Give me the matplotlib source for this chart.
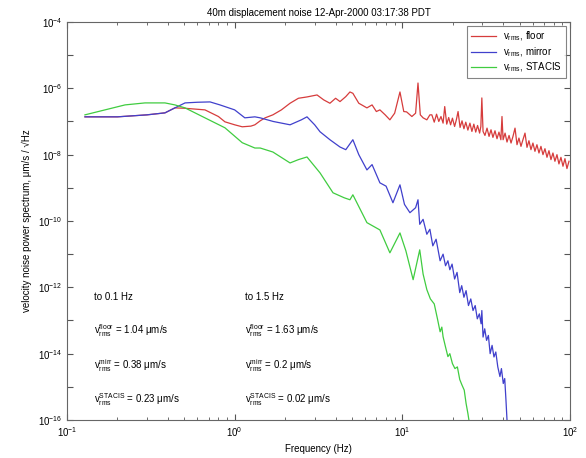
import numpy as np
import matplotlib
matplotlib.use('Agg')
import matplotlib.pyplot as plt
from matplotlib.ticker import LogLocator, NullFormatter, FixedLocator, FuncFormatter

plt.rcParams['font.family'] = ['Liberation Sans', 'DejaVu Sans']
plt.rcParams['mathtext.fontset'] = 'custom'
plt.rcParams['mathtext.rm'] = 'Liberation Sans'
plt.rcParams['mathtext.it'] = 'Liberation Sans'

# floor (red): frequency in Hz, log10 of velocity spectrum
f_floor = [0.128, 0.2, 0.3, 0.384, 0.44, 0.5, 0.665, 0.8, 0.875, 1.0, 1.11, 1.25, 1.32, 1.42,
           1.52, 1.69, 1.9, 2.14, 2.4, 2.7, 3.1, 3.4, 3.7, 4.0, 4.25, 4.6, 4.87, 5.07, 5.5,
           6.15, 6.6, 7.0, 7.35, 7.9, 8.43, 9.0, 9.68, 10.2, 10.6, 11.4, 12.0, 12.4, 12.8,
           13.3, 14.0, 14.6,
           15.0, 15.5, 16.0, 16.5, 17.0, 17.5, 17.9, 18.4, 18.9, 19.4, 19.9, 20.5, 21.0,
           21.5, 22.1, 22.7, 23.3, 23.9, 24.6, 25.3, 26.0, 26.7, 27.4, 28.1, 28.9, 29.4,
           29.8, 30.3, 31.1, 32.0, 32.9, 33.8, 34.7, 35.7, 36.7, 37.7, 38.7, 39.3, 39.9,
           41.0, 42.1, 43.3, 44.5, 45.7, 47.0, 48.3, 49.6, 51.0, 52.4, 53.9, 55.4, 56.9,
           58.5, 60.1, 61.8, 63.5, 65.3, 67.1, 69.0, 70.9, 72.9, 74.9, 77.0, 79.1, 81.3,
           83.6, 85.9, 88.3, 90.8, 93.3, 95.9, 98.6]
lv_floor = [-6.86, -6.86, -6.80, -6.74, -6.59, -6.60, -6.65, -6.85, -7.01, -7.10, -7.16, -7.14,
            -7.10, -6.98, -6.89, -6.80, -6.65, -6.45, -6.30, -6.26, -6.20, -6.35, -6.45,
            -6.30, -6.40, -6.25, -6.11, -6.15, -6.45, -6.59, -6.50, -6.70, -6.65, -6.80,
            -6.95, -6.75, -6.11, -6.70, -6.71, -6.85, -6.75, -5.84, -6.80, -6.89, -6.95,
            -6.80,
            -6.80, -7.02, -6.78, -7.00, -6.85, -7.05, -6.55, -7.08, -6.88, -7.10, -6.90,
            -7.15, -6.95, -6.70, -7.18, -6.98, -7.22, -7.02, -7.26, -7.05, -7.30, -7.08,
            -7.32, -7.12, -7.35, -7.15, -6.29, -7.30, -7.42, -7.20, -7.45, -7.25, -7.48,
            -7.28, -7.52, -7.32, -7.55, -6.85, -7.55, -7.35, -7.62, -7.42, -7.65, -7.45,
            -7.20, -7.70, -7.50, -7.75, -7.55, -7.35, -7.78, -7.58, -7.85, -7.65, -7.90,
            -7.70, -7.95, -7.75, -8.00, -7.82, -8.08, -7.88, -8.15, -7.95, -8.20, -8.00,
            -8.28, -8.08, -8.35, -8.12, -8.42, -8.20]

# mirror (blue)
f_mirror = [0.128, 0.2, 0.3, 0.384, 0.44, 0.506, 0.6, 0.713, 0.817, 1.0, 1.15, 1.32, 1.42,
            1.7, 2.14, 2.5, 2.7, 3.0, 3.23, 3.7, 4.25, 4.6, 5.07, 5.5, 6.15, 6.6, 7.35, 8.0,
            8.79, 9.68, 10.3, 11.1, 12.0, 12.4,
            12.7, 13.3, 14.0, 14.6, 15.2, 15.9, 16.8, 17.5, 18.1, 18.7, 19.2, 19.8, 20.5,
            21.2, 22.0, 22.6, 23.3, 24.0, 24.8, 25.6, 26.4, 27.2, 28.0, 28.8, 29.5, 29.8,
            30.3, 31.0, 31.8, 32.6, 33.4, 34.3, 35.2, 36.1, 37.1, 38.2, 39.0, 40.0, 40.8,
            41.5, 42.1]
lv_mirror = [-6.86, -6.86, -6.80, -6.74, -6.59, -6.44, -6.42, -6.41, -6.50, -6.65, -6.89,
             -6.86, -6.89, -7.00, -7.10, -6.95, -6.86, -7.10, -7.31, -7.55, -7.77, -7.85,
             -7.55, -8.00, -8.46, -8.30, -8.85, -8.95, -9.45, -8.91, -9.50, -9.75, -9.60,
             -9.36,
             -10.10, -9.95, -10.40, -10.25, -10.75, -10.55, -11.20, -11.00, -11.35, -11.20,
             -11.47, -11.30, -11.75, -11.55, -12.16, -11.95, -12.30, -12.10, -12.55, -12.35,
             -12.70, -12.55, -12.95, -12.80, -13.10, -12.70, -13.50, -13.25, -13.60, -13.45,
             -14.00, -13.75, -14.10, -13.95, -14.40, -14.69, -14.45, -14.90, -14.75, -15.40,
             -16.00]

# STACIS (green)
f_stacis = [0.128, 0.222, 0.292, 0.384, 0.44, 0.506, 0.665, 0.875, 1.11, 1.32, 1.42, 1.69,
            2.14, 2.4, 2.7, 3.23, 3.86, 4.5, 4.87, 5.07, 6.15, 7.35, 8.43, 9.68, 10.5, 11.6,
            12.7, 13.3, 14.0, 14.7, 15.5, 16.2, 16.8, 17.2, 17.5, 18.1, 18.7, 19.2, 19.9,
            20.6, 21.3, 22.0, 22.7, 23.4, 24.0, 24.6, 25.3]
lv_stacis = [-6.80, -6.50, -6.44, -6.44, -6.50, -6.59, -6.89, -7.19, -7.64, -7.80, -7.80,
             -7.92, -8.25, -8.15, -8.07, -8.55, -9.15, -9.30, -9.36, -9.21, -10.05, -10.27,
             -10.96, -10.36, -10.90, -11.77, -10.87, -11.60, -12.07, -12.35, -12.50, -12.95,
             -13.34, -13.20, -13.49, -13.80, -14.09, -14.00, -14.30, -14.45, -14.40, -14.78,
             -14.95, -15.10, -15.50, -15.80, -16.20]

labels = [r'$\mathrm{v_{rms}}$, floor', r'$\mathrm{v_{rms}}$, mirror', r'$\mathrm{v_{rms}}$, STACIS']
left_text = ['to 0.1 Hz',
             r'$\mathrm{v_{rms}^{floor}}$ = 1.04 μm/s',
             r'$\mathrm{v_{rms}^{mirr}}$ = 0.38 μm/s',
             r'$\mathrm{v_{rms}^{STACIS}}$ = 0.23 μm/s']
right_text = ['to 1.5 Hz',
              r'$\mathrm{v_{rms}^{floor}}$ = 1.63 μm/s',
              r'$\mathrm{v_{rms}^{mirr}}$ = 0.2 μm/s',
              r'$\mathrm{v_{rms}^{STACIS}}$ = 0.02 μm/s']
text_y = [10**-12.3, 10**-13.3, 10**-14.35, 10**-15.4]

fig = plt.figure(figsize=(5.86, 4.58), dpi=100)
ax = fig.add_axes([0.1143, 0.083, 0.8584, 0.869])

ax.loglog(f_floor, 10**np.array(lv_floor), color='#d63c3c', lw=0.9, label=labels[0])
ax.loglog(f_mirror, 10**np.array(lv_mirror), color='#4040cc', lw=0.9, label=labels[1])
ax.loglog(f_stacis, 10**np.array(lv_stacis), color='#40cc40', lw=0.9, label=labels[2])

ax.set_xlim(0.1, 100)
ax.set_ylim(1e-16, 1e-4)

ax.yaxis.set_major_locator(FixedLocator([10.0**k for k in range(-16, -3)]))
ax.yaxis.set_minor_locator(FixedLocator([]))
ax.yaxis.set_major_formatter(FuncFormatter(
    lambda v, p: r'$10^{%d}$' % round(np.log10(v)) if round(np.log10(v)) % 2 == 0 else ''))
ax.xaxis.set_major_locator(LogLocator(base=10))
ax.xaxis.set_minor_locator(LogLocator(base=10, subs=np.arange(2, 10)))
ax.xaxis.set_minor_formatter(NullFormatter())

ax.tick_params(which='both', direction='in', top=True, right=True, labelsize=7, color='#555555')
ax.tick_params(which='major', length=4)
ax.tick_params(which='minor', length=2)
for s in ax.spines.values():
    s.set_color('#666666')
    s.set_linewidth(0.8)

ax.set_title('40m displacement noise 12-Apr-2000 03:17:38 PDT', fontsize=7, pad=4)
ax.set_xlabel('Frequency (Hz)', fontsize=7)
ax.set_ylabel('velocity noise power spectrum, μm/s / √Hz', fontsize=7)

for t, y in zip(left_text, text_y):
    ax.text(0.145, y, t, fontsize=7, va='center')
for t, y in zip(right_text, text_y):
    ax.text(1.15, y, t, fontsize=7, va='center')

leg = ax.legend(loc='upper right', fontsize=7, frameon=True, fancybox=False,
                borderaxespad=0.4, handlelength=2.5, labelspacing=0.2)
leg.get_frame().set_edgecolor('#666666')
leg.get_frame().set_linewidth(0.8)

fig.savefig('out.png', dpi=100)
